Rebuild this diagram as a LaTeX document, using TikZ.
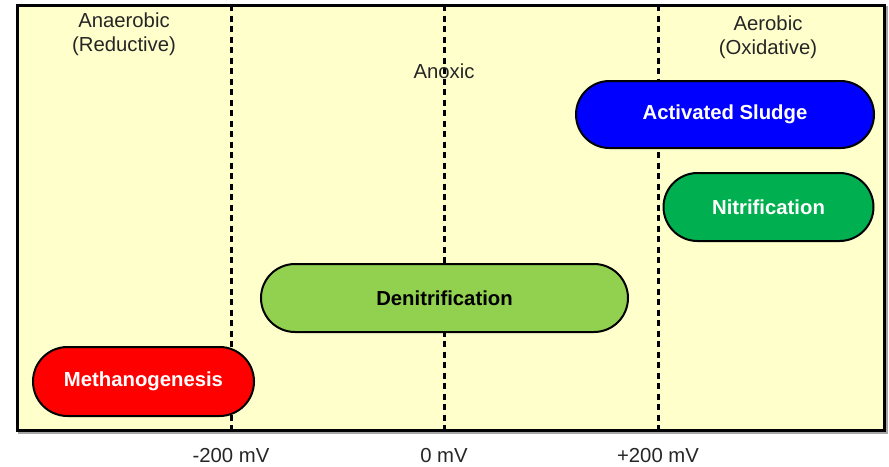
\documentclass[tikz,border=0pt]{standalone}
\usepackage{fontspec}
\setmainfont{Liberation Sans}
\usetikzlibrary{shapes.misc}
\definecolor{paper}{HTML}{FFFFCC}
\definecolor{methred}{HTML}{FF0000}
\definecolor{denitgreen}{HTML}{92D050}
\definecolor{sludgeblue}{HTML}{0000FF}
\definecolor{nitrgreen}{HTML}{00B050}
\definecolor{labelgray}{HTML}{262626}
\tikzset{every node/.style={font=\fontsize{20.3}{24.5}\selectfont, text=labelgray, align=center},
  pill/.style={rounded rectangle, draw=black, line width=2pt, inner sep=0pt, text=white,
    font=\bfseries\fontsize{20.3}{24.5}\selectfont},
  zoneline/.style={black, line width=3pt, dash pattern=on 6pt off 4.5pt}}

\begin{document}
\begin{tikzpicture}[x=1pt,y=-1pt]
  \useasboundingbox (0,0) rectangle (889,466);
  % frame
  \draw[gray!70, line width=3pt] (19,7) rectangle (886,432);
  \draw[paper, fill=paper] (17,5) rectangle (884,430);
  % zone limits
  \coordinate (ltop) at (231,5);  \coordinate (lbot) at (231,430);
  \coordinate (mtop) at (444,5);  \coordinate (mbot) at (444,430);
  \coordinate (rtop) at (658,5);  \coordinate (rbot) at (658,430);
  \draw[zoneline] (ltop) -- (lbot);
  \draw[zoneline] (mtop) -- (mbot);
  \draw[zoneline] (rtop) -- (rbot);
  \draw[black, line width=3pt] (17,5) rectangle (884,430);
  % zone names
  \node (anaer) at (124,34) {Anaerobic\\(Reductive)};
  \node (anox)  at (444,71) {Anoxic};
  \node (aer)   at (768,37) {Aerobic\\(Oxidative)};
  % processes
  \node[pill, fill=sludgeblue, minimum width=298pt, minimum height=67pt] (sludge) at (725,114.5) {Activated Sludge};
  \node[pill, fill=nitrgreen, minimum width=210pt, minimum height=68pt] (nitrif) at (768.5,207) {Nitrification};
  \node[pill, fill=denitgreen, text=black, minimum width=367pt, minimum height=68pt] (denit) at (444.5,298) {Denitrification};
  \node[pill, fill=methred, minimum width=221pt, minimum height=69pt] (methano) at (143.5,381.5) {Methanogenesis};
  % potentials
  \node (mneg) at (231,456) {-200 mV};
  \node (mzero) at (444,456) {0 mV};
  \node (mpos) at (658,456) {+200 mV};
\end{tikzpicture}
\end{document}
